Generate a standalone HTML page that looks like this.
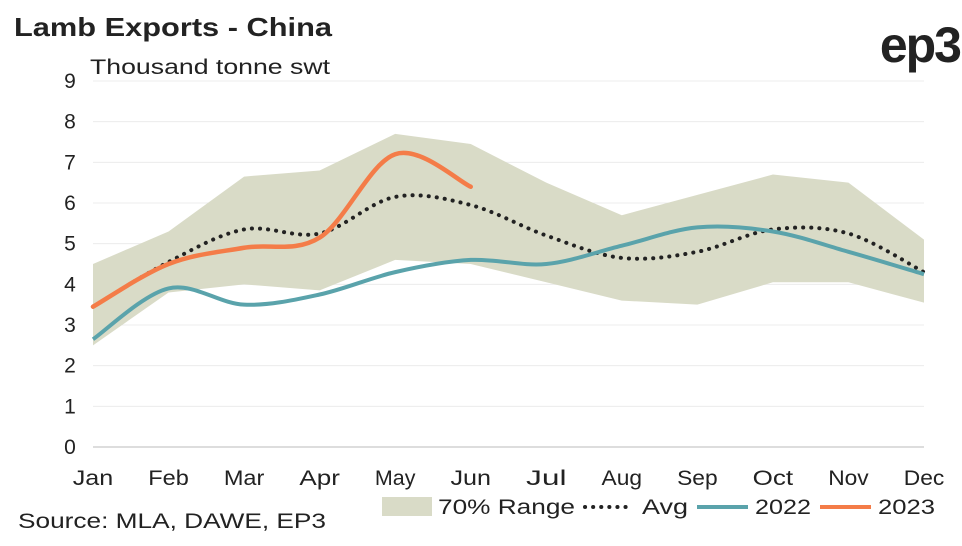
<!DOCTYPE html>
<html><head><meta charset="utf-8"><style>
body{margin:0;background:#fff;width:962px;height:541px;overflow:hidden;font-family:"Liberation Sans",sans-serif}
</style></head><body>
<svg id="chart" width="962" height="541" xmlns="http://www.w3.org/2000/svg">
<text x="14" y="36" font-size="26" font-weight="bold" fill="#222" textLength="318" lengthAdjust="spacingAndGlyphs">Lamb Exports - China</text>
<text x="960" y="62" text-anchor="end" font-size="50" font-weight="bold" fill="#222" letter-spacing="-2">ep3</text>
<text x="90" y="74" font-size="21" fill="#222" textLength="240" lengthAdjust="spacingAndGlyphs">Thousand tonne swt</text>
<text x="18" y="528" font-size="21" fill="#222" textLength="308" lengthAdjust="spacingAndGlyphs">Source: MLA, DAWE, EP3</text>
<g id="grid"></g><g id="marks"></g><g id="axes"></g>
<g>
<rect x="382" y="497" width="50" height="19" fill="#d9dbc7"/>
<text x="438" y="514" font-size="21" fill="#222" textLength="137" lengthAdjust="spacingAndGlyphs">70% Range</text>
<line x1="585" y1="507" x2="633" y2="507" stroke="#222" stroke-width="4" stroke-dasharray="0.1 8" stroke-linecap="round"/>
<text x="642" y="514" font-size="21" fill="#222" textLength="46" lengthAdjust="spacingAndGlyphs">Avg</text>
<line x1="697" y1="507" x2="748" y2="507" stroke="#5aa3ab" stroke-width="4"/>
<text x="755" y="514" font-size="21" fill="#222" textLength="56" lengthAdjust="spacingAndGlyphs">2022</text>
<line x1="820" y1="507" x2="871" y2="507" stroke="#f47c48" stroke-width="4"/>
<text x="878" y="514" font-size="21" fill="#222" textLength="57" lengthAdjust="spacingAndGlyphs">2023</text>
</g>
</svg>
<script>
const months=["Jan","Feb","Mar","Apr","May","Jun","Jul","Aug","Sep","Oct","Nov","Dec"];
const yTicks=[0,1,2,3,4,5,6,7,8,9];
const rangeHigh=[4.5,5.3,6.65,6.8,7.7,7.45,6.5,5.7,6.2,6.7,6.5,5.1];
const rangeLow=[2.5,3.8,4.0,3.85,4.6,4.5,4.05,3.6,3.5,4.05,4.05,3.55];
const avg=[3.45,4.55,5.35,5.25,6.15,5.95,5.2,4.65,4.8,5.35,5.25,4.3];
const s2022=[2.65,3.9,3.5,3.75,4.3,4.6,4.5,4.95,5.4,5.3,4.8,4.25];
const s2023=[3.45,4.5,4.9,5.15,7.2,6.4];
const NS="http://www.w3.org/2000/svg";
const x=i=>93+i*(924-93)/11;
const y=v=>447-v*(447-81)/9;
function mk(t,a,p){const e=document.createElementNS(NS,t);for(const k in a)e.setAttribute(k,a[k]);p.appendChild(e);return e;}
const grid=document.getElementById('grid'),marks=document.getElementById('marks'),axes=document.getElementById('axes');
yTicks.forEach(v=>{
 const l=mk('line',{x1:93,x2:924,y1:y(v),y2:y(v),stroke:v===0?'#bbb':'#ececec','stroke-width':1},grid);
 
 
 const t=mk('text',{x:70,y:y(v)+7,'font-size':21,fill:'#222','text-anchor':'middle'},axes);
 t.textContent=v;
 
 
});
months.forEach((m,i)=>{
 const t=mk('text',{x:x(i),y:485,'font-size':21,fill:'#222','text-anchor':'middle',textLength:m.length*13.5,lengthAdjust:'spacingAndGlyphs'},axes);
 t.textContent=m;
 
 
});
let pts=rangeHigh.map((v,i)=>x(i)+','+y(v)).concat(rangeLow.map((v,i)=>x(i)+','+y(v)).reverse());
const poly=mk('polygon',{points:pts.join(' '),fill:'#d9dbc7'},marks);


function smooth(arr){
 const p=arr.map((v,i)=>[x(i),y(v)]);
 let d='M'+p[0][0]+','+p[0][1];
 for(let i=0;i<p.length-1;i++){
  const p0=p[i-1]||p[i],p1=p[i],p2=p[i+1],p3=p[i+2]||p2;
  const c1=[p1[0]+(p2[0]-p0[0])/6,p1[1]+(p2[1]-p0[1])/6];
  const c2=[p2[0]-(p3[0]-p1[0])/6,p2[1]-(p3[1]-p1[1])/6];
  d+=` C${c1[0]},${c1[1]} ${c2[0]},${c2[1]} ${p2[0]},${p2[1]}`;
 }
 return d;
}
const a=mk('path',{d:smooth(avg),fill:'none',stroke:'#222','stroke-width':4,'stroke-dasharray':'0.1 8','stroke-linecap':'round'},marks);


const l22=mk('path',{d:smooth(s2022),fill:'none',stroke:'#5aa3ab','stroke-width':4},marks);


const l23=mk('path',{d:smooth(s2023),fill:'none',stroke:'#f47c48','stroke-width':4.5,'stroke-linecap':'round'},marks);


</script>
</body></html>
